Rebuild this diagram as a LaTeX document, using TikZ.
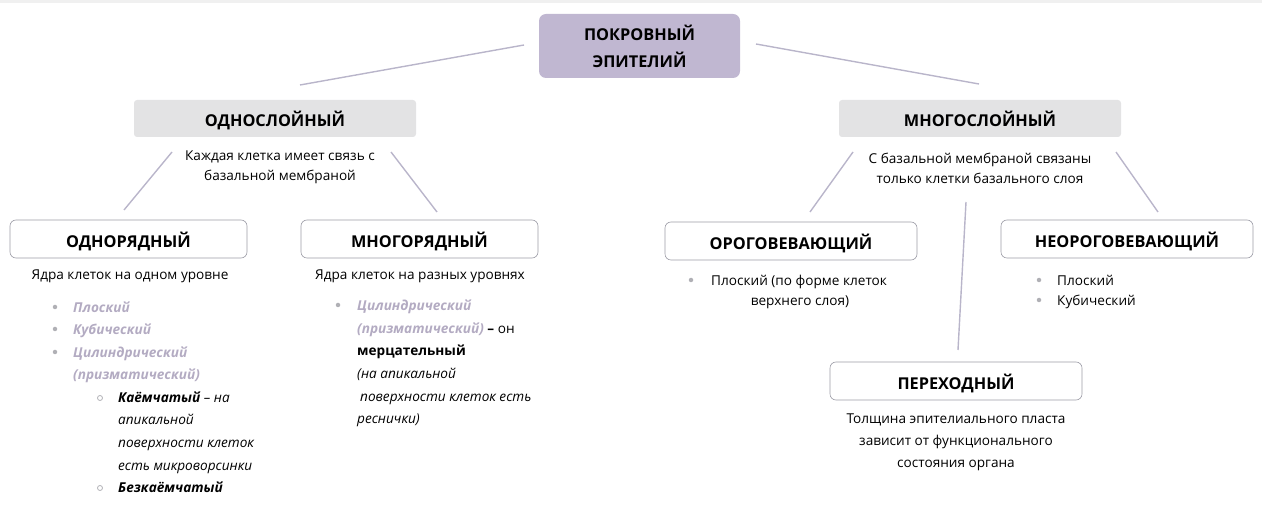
\documentclass[tikz,border=0pt]{standalone}
\usepackage{fontspec}
\setmainfont{Open Sans}
\definecolor{rootfill}{HTML}{C0B7D1}
\definecolor{graybg}{HTML}{E3E3E4}
\definecolor{linecol}{HTML}{B9B5CA}
\definecolor{boxborder}{HTML}{9C9CA6}
\definecolor{dotcol}{HTML}{B0B0B5}
\definecolor{purtext}{HTML}{B3ABC2}
\definecolor{topstrip}{HTML}{F0F0F0}
\begin{document}
\begin{tikzpicture}[x=1pt,y=-1pt,
  hdr/.style={font=\fontsize{16.3}{27}\selectfont\bfseries, text=black},
  hdrl/.style={hdr, text height=16.6pt, text depth=0pt},
  body/.style={font=\fontsize{13.6}{20}\selectfont, text=black, inner sep=0pt},
  whitebox/.style={draw=boxborder, fill=white, rounded corners=6pt, line width=0.6pt, minimum width=237pt, minimum height=38pt, hdrl},
  graybox/.style={fill=graybg, rounded corners=3pt, minimum width=282pt, minimum height=37pt, hdrl},
  rootbox/.style={fill=rootfill, rounded corners=7pt, minimum width=201pt, minimum height=64pt, hdr, align=center},
  conn/.style={draw=linecol, line width=1.4pt},
  dot/.style={circle, fill=dotcol, inner sep=0pt, minimum size=4.5pt},
  odot/.style={circle, draw=dotcol, line width=0.8pt, inner sep=0pt, minimum size=5pt},
  item/.style={body, anchor=mid west},
  itl/.style={item, font=\fontsize{13.6}{20}\selectfont\itshape},
  pur/.style={item, font=\fontsize{13.6}{20}\selectfont\bfseries\itshape, text=purtext}
]
\useasboundingbox (0,0) rectangle (1262,518);
\fill[topstrip] (0,0) rectangle (1262,3);

% root
\node[rootbox] (root) at (639.5,46) {ПОКРОВНЫЙ\\ЭПИТЕЛИЙ};

% level 1
\node[graybox] (odnos) at (275,118.5) {ОДНОСЛОЙНЫЙ};
\node[graybox] (mnogos) at (980,118.5) {МНОГОСЛОЙНЫЙ};

\coordinate (rl) at (524,45);
\coordinate (rr) at (756,44);
\coordinate (l1) at (300,85);
\coordinate (r1) at (979,84);
\draw[conn] (rl) -- (l1);
\draw[conn] (rr) -- (r1);

\node[body, align=center] (odnostxt) at (280,167) {Каждая клетка имеет связь с\\базальной мембраной};
\node[body, align=center] (mnogostxt) at (980,168) {С базальной мембраной связаны\\только клетки базального слоя};

% level 2 boxes
\node[whitebox] (odnor) at (128.5,239) {ОДНОРЯДНЫЙ};
\node[whitebox] (mnogor) at (419.5,239) {МНОГОРЯДНЫЙ};
\node[whitebox, minimum width=252pt] (orog) at (791,241) {ОРОГОВЕВАЮЩИЙ};
\node[whitebox, minimum width=252pt] (neorog) at (1127,239) {НЕОРОГОВЕВАЮЩИЙ};
\node[whitebox, minimum width=252pt] (perex) at (956,381) {ПЕРЕХОДНЫЙ};

% connectors level 1 -> 2
\coordinate (a1) at (172,152); \coordinate (a2) at (124,210);
\coordinate (b1) at (391,152); \coordinate (b2) at (437,212);
\coordinate (c1) at (853,152); \coordinate (c2) at (810,212);
\coordinate (d1) at (1116,152); \coordinate (d2) at (1158,212);
\coordinate (e1) at (966,202); \coordinate (e2) at (958,350);
\draw[conn] (a1) -- (a2);
\draw[conn] (b1) -- (b2);
\draw[conn] (c1) -- (c2);
\draw[conn] (d1) -- (d2);
\draw[conn] (e1) -- (e2);

% ОДНОРЯДНЫЙ content
\node[body, anchor=mid] (odnortxt) at (130,277) {Ядра клеток на одном уровне};
\node[dot] (p1) at (55,307) {};
\node[dot] (p2) at (55,329) {};
\node[dot] (p3) at (55,352) {};
\node[pur] (t1) at (73,310) {Плоский};
\node[pur] (t2) at (73,332) {Кубический};
\node[pur] (t3) at (73,355) {Цилиндрический};
\node[pur] (t4) at (73,377) {(призматический)};
\node[odot] (s1) at (100,398) {};
\node[itl] (k1) at (118,400) {\bfseries Каёмчатый\mdseries{} – на};
\node[itl] (k2) at (118,422) {апикальной};
\node[itl] (k3) at (118,445) {поверхности клеток};
\node[itl] (k4) at (118,468) {есть микроворсинки};
\node[odot] (s2) at (100,488) {};
\node[itl, font=\fontsize{13.6}{20}\selectfont\bfseries\itshape] (k5) at (118,490) {Безкаёмчатый};

% МНОГОРЯДНЫЙ content
\node[body, anchor=mid] (mnogortxt) at (420,277) {Ядра клеток на разных уровнях};
\node[dot] (q1) at (338,305) {};
\node[pur] (m1) at (357,308) {Цилиндрический};
\node[item] (m2) at (357,331) {\textcolor{purtext}{\bfseries\itshape (призматический)}\textbf{ –} он};
\node[item, font=\fontsize{13.6}{20}\selectfont\bfseries] (m3) at (357,353) {мерцательный};
\node[itl] (m4) at (357,376) {(на апикальной};
\node[itl] (m5) at (360,399) {поверхности клеток есть};
\node[itl] (m6) at (357,421) {реснички)};

% ОРОГОВЕВАЮЩИЙ content
\node[dot] (o1) at (691,280) {};
\node[item] (ot1) at (711,283) {Плоский (по форме клеток};
\node[body, anchor=mid] (ot2) at (800,303) {верхнего слоя)};

% НЕОРОГОВЕВАЮЩИЙ content
\node[dot] (n1) at (1039,280) {};
\node[dot] (n2) at (1039,300) {};
\node[item] (nt1) at (1057,283) {Плоский};
\node[item] (nt2) at (1057,303) {Кубический};

% ПЕРЕХОДНЫЙ content
\node[body, anchor=mid] (pt1) at (956,421) {Толщина эпителиального пласта};
\node[body, anchor=mid] (pt2) at (956,443) {зависит от функционального};
\node[body, anchor=mid] (pt3) at (956,465) {состояния органа};
\end{tikzpicture}
\end{document}
